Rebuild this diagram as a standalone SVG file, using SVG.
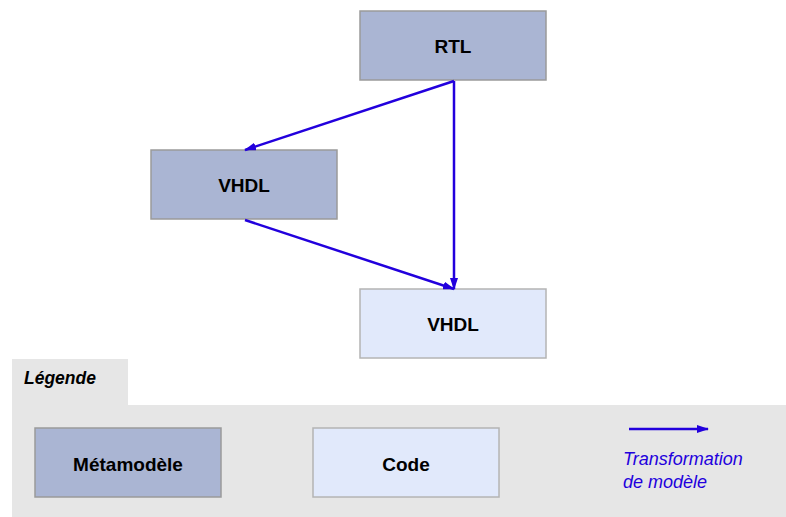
<svg xmlns="http://www.w3.org/2000/svg" width="786" height="517" viewBox="0 0 786 517">
<style>
.meta{fill:#aab5d3;stroke:#9a9a9a;stroke-width:1.5}
.code{fill:#e1e9fb;stroke:#b4b4b4;stroke-width:1.5}
.lbl{font-family:"Liberation Sans",Arial,sans-serif;font-size:19px;font-weight:bold;fill:#000;text-anchor:middle}
.edge{stroke:#2200dd;stroke-width:2.5;fill:none;marker-end:url(#ah)}
.leg{font-family:"Liberation Sans",Arial,sans-serif;font-size:18px;font-style:italic;fill:#2200dd}
</style>
<defs>
<marker id="ah" markerWidth="12" markerHeight="8" refX="11" refY="4" orient="auto" markerUnits="userSpaceOnUse">
<path d="M0,0 L12,4 L0,8 z" fill="#2200dd"/>
</marker>
</defs>
<g id="legend">
<rect x="12" y="359" width="116" height="47" fill="#e6e6e6"/>
<rect x="12" y="405" width="774" height="112" fill="#e6e6e6"/>
<text x="24" y="384" font-family="Liberation Sans,Arial,sans-serif" font-size="17.5" font-style="italic" font-weight="bold">Légende</text>
</g>
<g id="rtl"><rect class="meta" x="360" y="11" width="186" height="69"/><text class="lbl" x="453" y="53">RTL</text></g>
<g id="vhdl1"><rect class="meta" x="151" y="150" width="186" height="69"/><text class="lbl" x="244" y="192">VHDL</text></g>
<g id="vhdl2"><rect class="code" x="360" y="289" width="186" height="69"/><text class="lbl" x="453" y="331">VHDL</text></g>
<g id="leg-meta"><rect class="meta" x="35" y="428" width="186" height="69"/><text class="lbl" x="128" y="471">Métamodèle</text></g>
<g id="leg-code"><rect class="code" x="313" y="428" width="186" height="69"/><text class="lbl" x="406" y="471">Code</text></g>
<g id="leg-transfo">
<line class="edge" x1="629" y1="429" x2="708" y2="429"/>
<text class="leg" x="623" y="465">Transformation</text>
<text class="leg" x="623" y="488">de modèle</text>
</g>
<g id="connectors">
<line class="edge" x1="454" y1="81" x2="245" y2="150"/>
<line class="edge" x1="454" y1="81" x2="454" y2="289"/>
<line class="edge" x1="245" y1="220" x2="454" y2="289"/>
</g>
</svg>
